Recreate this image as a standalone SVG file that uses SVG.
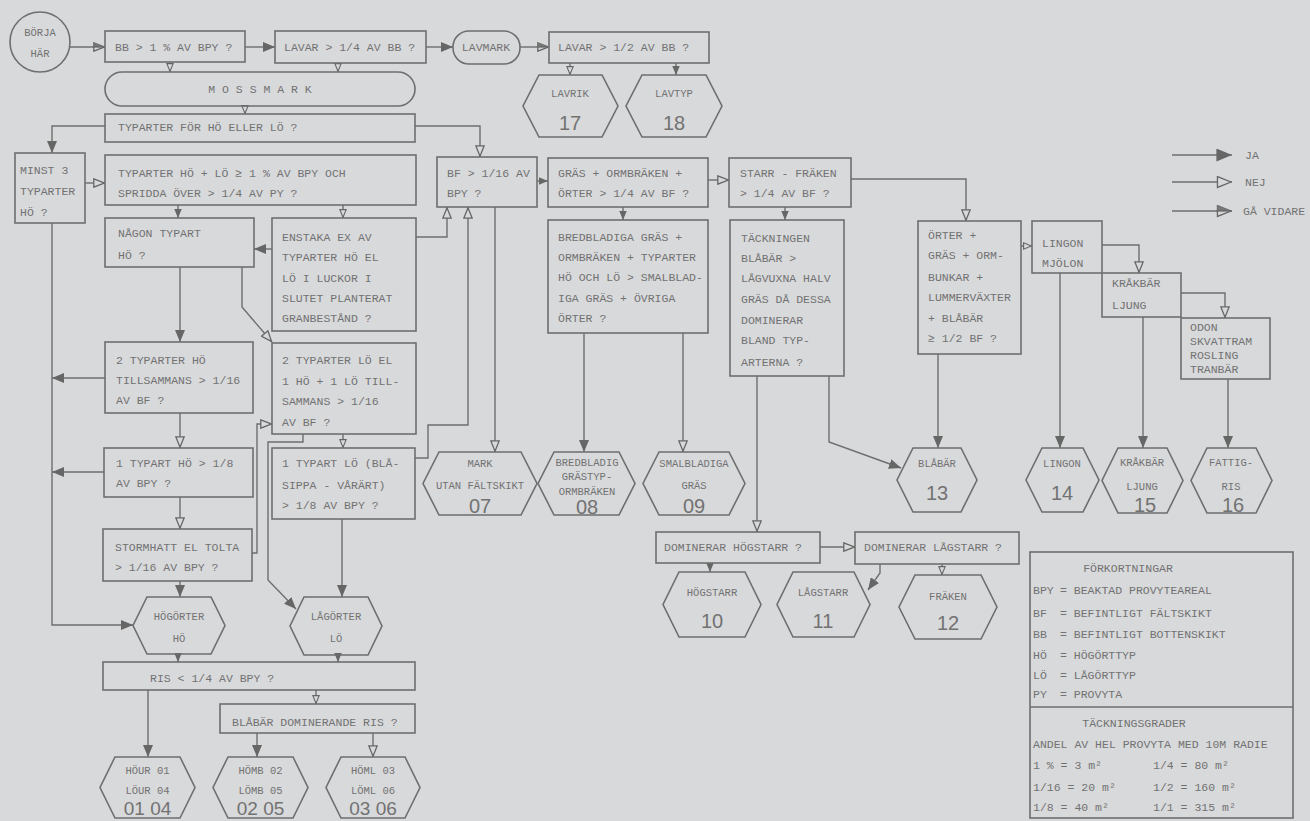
<svg xmlns="http://www.w3.org/2000/svg" width="1310" height="821" viewBox="0 0 1310 821">
<style>
.bg{fill:#d8d9db}
.n{fill:none;stroke:#6e6e6e;stroke-width:1.6}
.t{font-family:"Liberation Mono",monospace;font-size:11.5px;fill:#727272}
.s{font-family:"Liberation Mono",monospace;font-size:10.5px;fill:#727272}
.c{text-anchor:middle}
.big{font-family:"Liberation Sans",sans-serif;font-size:20px;fill:#727272;text-anchor:middle}
.e{fill:none;stroke:#6e6e6e;stroke-width:1.4}
</style>
<defs>
<marker id="ja" viewBox="0 0 12 10" refX="12" refY="5" markerWidth="12" markerHeight="10" markerUnits="userSpaceOnUse" orient="auto"><path d="M0,0 L12,5 L0,10 Z" fill="#666"/></marker>
<marker id="nej" viewBox="0 0 12 10" refX="12" refY="5" markerWidth="12" markerHeight="10" markerUnits="userSpaceOnUse" orient="auto"><path d="M0.8,0.8 L11.2,5 L0.8,9.2 Z" fill="#d8d9db" stroke="#666" stroke-width="1.3"/></marker>
<marker id="jas" viewBox="0 0 12 10" refX="12" refY="5" markerWidth="9" markerHeight="8" markerUnits="userSpaceOnUse" orient="auto"><path d="M0,0 L12,5 L0,10 Z" fill="#666"/></marker>
<marker id="nejs" viewBox="0 0 12 10" refX="12" refY="5" markerWidth="9" markerHeight="8" markerUnits="userSpaceOnUse" orient="auto"><path d="M0.8,0.8 L11.2,5 L0.8,9.2 Z" fill="#d8d9db" stroke="#666" stroke-width="1.5"/></marker>
<marker id="ga" viewBox="0 0 12 10" refX="12" refY="5" markerWidth="12" markerHeight="10" markerUnits="userSpaceOnUse" orient="auto"><path d="M0.8,0.8 L11.2,5 L0.8,9.2 Z" fill="#d8d9db" stroke="#666" stroke-width="1.3"/><path d="M0.8,0.8 L11.2,5 L0.8,5 Z" fill="#777"/><path d="M0,5 H11" stroke="#666" stroke-width="1.3"/></marker>
<marker id="jaL" viewBox="0 0 12 10" refX="12" refY="5" markerWidth="16" markerHeight="13" markerUnits="userSpaceOnUse" orient="auto"><path d="M0,0 L12,5 L0,10 Z" fill="#666"/></marker>
<marker id="nejL" viewBox="0 0 12 10" refX="12" refY="5" markerWidth="16" markerHeight="13" markerUnits="userSpaceOnUse" orient="auto"><path d="M0.8,0.8 L11.2,5 L0.8,9.2 Z" fill="#d8d9db" stroke="#666" stroke-width="1"/></marker>
<marker id="gaL" viewBox="0 0 12 10" refX="12" refY="5" markerWidth="16" markerHeight="13" markerUnits="userSpaceOnUse" orient="auto"><path d="M0.8,0.8 L11.2,5 L0.8,9.2 Z" fill="#d8d9db" stroke="#666" stroke-width="1"/><path d="M0.8,0.8 L11.2,5 L0.8,5 Z" fill="#777"/><path d="M0,5 H11" stroke="#666" stroke-width="1"/></marker>
</defs>
<rect class="bg" x="0" y="0" width="1310" height="821"/>

<g id="connectors" class="e">
<path d="M70,47 H105" marker-end="url(#ga)"/>
<path d="M245,47 H275" marker-end="url(#ja)"/>
<path d="M426,47 H453" marker-end="url(#ja)"/>
<path d="M520,47 H549" marker-end="url(#ga)"/>
<path d="M570,63 V75" marker-end="url(#nejs)"/>
<path d="M676,63 V75" marker-end="url(#jas)"/>
<path d="M170,62 V72" marker-end="url(#nejs)"/>
<path d="M338,63 V72" marker-end="url(#nejs)"/>
<path d="M245,106 V114" marker-end="url(#nejs)"/>
<path d="M105,126 H52 V153" marker-end="url(#ja)"/>
<path d="M415,126 H480 V157" marker-end="url(#nej)"/>
<path d="M85,183 H105" marker-end="url(#nej)"/>
<path d="M52,223 V625 H133" marker-end="url(#ja)"/>
<path d="M178,205 V218" marker-end="url(#jas)"/>
<path d="M343,205 V218" marker-end="url(#nejs)"/>
<path d="M272,249 H254" marker-end="url(#ja)"/>
<path d="M180,267 V342" marker-end="url(#ja)"/>
<path d="M242,267 V307 L272,342" marker-end="url(#nej)"/>
<path d="M416,237 H447 V207" marker-end="url(#nej)"/>
<path d="M105,378 H52" marker-end="url(#ja)"/>
<path d="M180,413 V448" marker-end="url(#nej)"/>
<path d="M104,472 H52" marker-end="url(#ja)"/>
<path d="M180,497 V529" marker-end="url(#nej)"/>
<path d="M180,581 V597" marker-end="url(#ja)"/>
<path d="M252,553 H257 V424 H272" marker-end="url(#nej)"/>
<path d="M303,434 V442 H268 V580 L296,609" marker-end="url(#ja)"/>
<path d="M343,434 V448" marker-end="url(#nejs)"/>
<path d="M342,519 V597" marker-end="url(#ja)"/>
<path d="M415,458 H428 V425 H468 V207" marker-end="url(#nej)"/>
<path d="M495,207 V452" marker-end="url(#nej)"/>
<path d="M537,181 H548" marker-end="url(#jas)"/>
<path d="M708,180 H729" marker-end="url(#nej)"/>
<path d="M623,207 V220" marker-end="url(#jas)"/>
<path d="M584,333 V452" marker-end="url(#ja)"/>
<path d="M683,333 V452" marker-end="url(#nej)"/>
<path d="M785,207 V220" marker-end="url(#jas)"/>
<path d="M851,179 H966 V221" marker-end="url(#nej)"/>
<path d="M757,376 V532" marker-end="url(#nej)"/>
<path d="M829,376 V442 L901,468" marker-end="url(#ja)"/>
<path d="M938,354 V448" marker-end="url(#ja)"/>
<path d="M1021,246 H1032" marker-end="url(#nejs)"/>
<path d="M1102,245 H1139 V273" marker-end="url(#nej)"/>
<path d="M1060,273 V448" marker-end="url(#ja)"/>
<path d="M1181,293 H1225 V318" marker-end="url(#nej)"/>
<path d="M1143,317 V448" marker-end="url(#ja)"/>
<path d="M1228,379 V448" marker-end="url(#ja)"/>
<path d="M820,547 H855" marker-end="url(#nej)"/>
<path d="M710,563 V572" marker-end="url(#jas)"/>
<path d="M880,564 V573 L868,590" marker-end="url(#ja)"/>
<path d="M942,564 V575" marker-end="url(#nejs)"/>
<path d="M178,654 V662" marker-end="url(#jas)"/>
<path d="M338,655 V662" marker-end="url(#jas)"/>
<path d="M148,690 V757" marker-end="url(#ja)"/>
<path d="M316,690 V704" marker-end="url(#nejs)"/>
<path d="M257,733 V757" marker-end="url(#ja)"/>
<path d="M373,733 V757" marker-end="url(#nej)"/>
</g>

<g id="start"><circle class="n" cx="40" cy="42" r="30"/><text class="s c" x="40" y="36">BÖRJA</text><text class="s c" x="40" y="57">HÄR</text></g>
<g id="q-bb"><rect class="n" x="105" y="31" width="140" height="31"/><text class="t" x="115" y="51">BB &gt; 1 % AV BPY ?</text></g>
<g id="q-lavar14"><rect class="n" x="275" y="31" width="151" height="32"/><text class="t" x="284" y="51">LAVAR &gt; 1/4 AV BB ?</text></g>
<g id="lavmark"><rect class="n" x="453" y="31" width="67" height="33" rx="16"/><text class="t c" x="486" y="51">LAVMARK</text></g>
<g id="q-lavar12"><rect class="n" x="549" y="32" width="160" height="31"/><text class="t" x="558" y="51">LAVAR &gt; 1/2 AV BB ?</text></g>
<g id="h17"><polygon class="n" points="539,75 602,75 618,106 602,137 539,137 523,106"/><text class="s c" x="570" y="97">LAVRIK</text><text class="big" x="570" y="130">17</text></g>
<g id="h18"><polygon class="n" points="642,75 706,75 722,106 706,137 642,137 626,106"/><text class="s c" x="674" y="97">LAVTYP</text><text class="big" x="674" y="130">18</text></g>
<g id="mossmark"><rect class="n" x="105" y="72" width="310" height="34" rx="17"/><text class="t c" x="260" y="93">M O S S M A R K</text></g>
<g id="q-typarter"><rect class="n" x="105" y="114" width="310" height="28"/><text class="t" x="118" y="131">TYPARTER FÖR HÖ ELLER LÖ ?</text></g>
<g id="q-minst3"><rect class="n" x="15" y="153" width="70" height="70"/><text class="t" x="20" y="174">MINST 3</text><text class="t" x="20" y="195">TYPARTER</text><text class="t" x="20" y="216">HÖ ?</text></g>
<g id="q-hölö"><rect class="n" x="105" y="155" width="311" height="50"/><text class="t" x="118" y="177">TYPARTER HÖ + LÖ ≥ 1 % AV BPY OCH</text><text class="t" x="118" y="197">SPRIDDA ÖVER &gt; 1/4 AV PY ?</text></g>
<g id="q-nagon"><rect class="n" x="105" y="218" width="149" height="49"/><text class="t" x="118" y="237">NÅGON TYPART</text><text class="t" x="118" y="259">HÖ ?</text></g>
<g id="q-enstaka"><rect class="n" x="272" y="218" width="144" height="113"/><text class="t" x="282" y="241">ENSTAKA EX AV</text><text class="t" x="282" y="261">TYPARTER HÖ EL</text><text class="t" x="282" y="282">LÖ I LUCKOR I</text><text class="t" x="282" y="302">SLUTET PLANTERAT</text><text class="t" x="282" y="322">GRANBESTÅND ?</text></g>
<g id="q-2hö"><rect class="n" x="105" y="342" width="148" height="71"/><text class="t" x="116" y="364">2 TYPARTER HÖ</text><text class="t" x="116" y="384">TILLSAMMANS &gt; 1/16</text><text class="t" x="116" y="404">AV BF ?</text></g>
<g id="q-2lö"><rect class="n" x="272" y="343" width="144" height="91"/><text class="t" x="282" y="364">2 TYPARTER LÖ EL</text><text class="t" x="282" y="385">1 HÖ + 1 LÖ TILL-</text><text class="t" x="282" y="405">SAMMANS &gt; 1/16</text><text class="t" x="282" y="426">AV BF ?</text></g>
<g id="q-1hö"><rect class="n" x="104" y="448" width="149" height="49"/><text class="t" x="116" y="467">1 TYPART HÖ &gt; 1/8</text><text class="t" x="116" y="487">AV BPY ?</text></g>
<g id="q-1lö"><rect class="n" x="272" y="448" width="143" height="71"/><text class="t" x="282" y="467">1 TYPART LÖ (BLÅ-</text><text class="t" x="282" y="489">SIPPA - VÅRÄRT)</text><text class="t" x="282" y="509">&gt; 1/8 AV BPY ?</text></g>
<g id="q-stormhatt"><rect class="n" x="103" y="529" width="149" height="52"/><text class="t" x="115" y="551">STORMHATT EL TOLTA</text><text class="t" x="115" y="571">&gt; 1/16 AV BPY ?</text></g>
<g id="hogorter"><polygon class="n" points="147,597 211,597 225,625.5 211,654 147,654 133,625.5"/><text class="s c" x="179" y="620">HÖGÖRTER</text><text class="s c" x="179" y="642">HÖ</text></g>
<g id="lagorter"><polygon class="n" points="304,597 368,597 382,626 368,655 304,655 290,626"/><text class="s c" x="336" y="620">LÅGÖRTER</text><text class="s c" x="336" y="642">LÖ</text></g>
<g id="q-ris"><rect class="n" x="103" y="662" width="312" height="28"/><text class="t" x="150" y="682">RIS &lt; 1/4 AV BPY ?</text></g>
<g id="q-blabar-dom"><rect class="n" x="220" y="704" width="195" height="29"/><text class="t" x="232" y="726">BLÅBÄR DOMINERANDE RIS ?</text></g>
<g id="h01"><polygon class="n" points="115,757 180,757 195,787.5 180,818 115,818 100,787.5"/><text class="s c" x="147.5" y="774">HÖUR 01</text><text class="s c" x="147.5" y="794">LÖUR 04</text><text class="big" x="147.5" y="815" style="font-size:19px">01 04</text></g>
<g id="h02"><polygon class="n" points="228,757 293,757 308,787.5 293,818 228,818 213,787.5"/><text class="s c" x="260.5" y="774">HÖMB 02</text><text class="s c" x="260.5" y="794">LÖMB 05</text><text class="big" x="260.5" y="815" style="font-size:19px">02 05</text></g>
<g id="h03"><polygon class="n" points="341,757 405,757 420,787.5 405,818 341,818 326,787.5"/><text class="s c" x="373" y="774">HÖML 03</text><text class="s c" x="373" y="794">LÖML 06</text><text class="big" x="373" y="815" style="font-size:19px">03 06</text></g>
<g id="q-bf"><rect class="n" x="437" y="157" width="100" height="50"/><text class="t" x="447" y="177">BF &gt; 1/16 AV</text><text class="t" x="447" y="197">BPY ?</text></g>
<g id="q-gras"><rect class="n" x="548" y="158" width="160" height="49"/><text class="t" x="558" y="177">GRÄS + ORMBRÄKEN +</text><text class="t" x="558" y="197">ÖRTER &gt; 1/4 AV BF ?</text></g>
<g id="q-starr"><rect class="n" x="729" y="158" width="122" height="49"/><text class="t" x="740" y="177">STARR - FRÄKEN</text><text class="t" x="740" y="197">&gt; 1/4 AV BF ?</text></g>
<g id="q-bredbl"><rect class="n" x="548" y="220" width="160" height="113"/><text class="t" x="558" y="241">BREDBLADIGA GRÄS +</text><text class="t" x="558" y="261">ORMBRÄKEN + TYPARTER</text><text class="t" x="558" y="281">HÖ OCH LÖ &gt; SMALBLAD-</text><text class="t" x="558" y="302">IGA GRÄS + ÖVRIGA</text><text class="t" x="558" y="322">ÖRTER ?</text></g>
<g id="q-tackn"><rect class="n" x="730" y="220" width="114" height="156"/><text class="t" x="741" y="242">TÄCKNINGEN</text><text class="t" x="741" y="262">BLÅBÄR &gt;</text><text class="t" x="741" y="282">LÅGVUXNA HALV</text><text class="t" x="741" y="303">GRÄS DÅ DESSA</text><text class="t" x="741" y="324">DOMINERAR</text><text class="t" x="741" y="344">BLAND TYP-</text><text class="t" x="741" y="366">ARTERNA ?</text></g>
<g id="q-orter"><rect class="n" x="918" y="221" width="103" height="133"/><text class="t" x="928" y="239">ÖRTER +</text><text class="t" x="928" y="259">GRÄS + ORM-</text><text class="t" x="928" y="281">BUNKAR +</text><text class="t" x="928" y="301">LUMMERVÄXTER</text><text class="t" x="928" y="322">+ BLÅBÄR</text><text class="t" x="928" y="342">≥ 1/2 BF ?</text></g>
<g id="b-lingon"><rect class="n" x="1032" y="221" width="70" height="52"/><text class="t" x="1042" y="247">LINGON</text><text class="t" x="1042" y="267">MJÖLON</text></g>
<g id="b-krakbar"><rect class="n" x="1102" y="273" width="79" height="44"/><text class="t" x="1112" y="287">KRÅKBÄR</text><text class="t" x="1112" y="309">LJUNG</text></g>
<g id="b-odon"><rect class="n" x="1181" y="318" width="89" height="61"/><text class="t" x="1190" y="331">ODON</text><text class="t" x="1190" y="345">SKVATTRAM</text><text class="t" x="1190" y="359">ROSLING</text><text class="t" x="1190" y="373">TRANBÄR</text></g>
<g id="h07"><polygon class="n" points="439,452 521,452 537,483.5 521,515 439,515 423,483.5"/><text class="s c" x="480" y="467">MARK</text><text class="s c" x="480" y="489">UTAN FÄLTSKIKT</text><text class="big" x="480" y="513">07</text></g>
<g id="h08"><polygon class="n" points="554,452 619,452 635,483.5 619,515 554,515 538,483.5"/><text class="s c" x="587" y="466">BREDBLADIG</text><text class="s c" x="587" y="480">GRÄSTYP-</text><text class="s c" x="587" y="495">ORMBRÄKEN</text><text class="big" x="587" y="514">08</text></g>
<g id="h09"><polygon class="n" points="659,452 729,452 745,483.5 729,515 659,515 643,483.5"/><text class="s c" x="694" y="467">SMALBLADIGA</text><text class="s c" x="694" y="489">GRÄS</text><text class="big" x="694" y="513">09</text></g>
<g id="q-domhog"><rect class="n" x="656" y="532" width="164" height="31"/><text class="t" x="664" y="551">DOMINERAR HÖGSTARR ?</text></g>
<g id="q-domlag"><rect class="n" x="855" y="532" width="164" height="32"/><text class="t" x="864" y="551">DOMINERAR LÅGSTARR ?</text></g>
<g id="h10"><polygon class="n" points="679,572 745,572 761,604.5 745,637 679,637 663,604.5"/><text class="s c" x="712" y="596">HÖGSTARR</text><text class="big" x="712" y="628">10</text></g>
<g id="h11"><polygon class="n" points="793,572 854,572 870,604.5 854,637 793,637 777,604.5"/><text class="s c" x="823" y="596">LÅGSTARR</text><text class="big" x="823" y="628">11</text></g>
<g id="h12"><polygon class="n" points="915,575 981,575 997,607 981,639 915,639 899,607"/><text class="s c" x="948" y="600">FRÄKEN</text><text class="big" x="948" y="630">12</text></g>
<g id="h13"><polygon class="n" points="913,448 961,448 977,480 961,512 913,512 897,480"/><text class="s c" x="937" y="467">BLÅBÄR</text><text class="big" x="937" y="500">13</text></g>
<g id="h14"><polygon class="n" points="1042,448 1083,448 1099,480 1083,512 1042,512 1026,480"/><text class="s c" x="1062" y="467">LINGON</text><text class="big" x="1062" y="500">14</text></g>
<g id="h15"><polygon class="n" points="1118,448 1167,448 1183,480.5 1167,513 1118,513 1102,480.5"/><text class="s c" x="1142" y="466">KRÅKBÄR</text><text class="s c" x="1142" y="490">LJUNG</text><text class="big" x="1145" y="512">15</text></g>
<g id="h16"><polygon class="n" points="1207,448 1256,448 1272,480.5 1256,513 1207,513 1191,480.5"/><text class="s c" x="1231" y="466">FATTIG-</text><text class="s c" x="1231" y="490">RIS</text><text class="big" x="1233" y="512">16</text></g>

<g id="legend-arrows" class="e">
<path d="M1172,155 H1232" marker-end="url(#jaL)"/>
<path d="M1172,182 H1232" marker-end="url(#nejL)"/>
<path d="M1172,211 H1232" marker-end="url(#gaL)"/>
<text class="t" x="1245" y="159" stroke="none">JA</text>
<text class="t" x="1245" y="186" stroke="none">NEJ</text>
<text class="t" x="1243" y="215" stroke="none">GÅ VIDARE</text>
</g>

<g id="legend-box">
<rect class="n" x="1030" y="552" width="263" height="266"/>
<line class="n" x1="1030" y1="707" x2="1293" y2="707"/>
<text class="t c" x="1128" y="572">FÖRKORTNINGAR</text>
<text class="t" x="1033" y="594">BPY</text><text class="t" x="1060" y="594">= BEAKTAD PROVYTEAREAL</text>
<text class="t" x="1033" y="617">BF</text><text class="t" x="1060" y="617">= BEFINTLIGT FÄLTSKIKT</text>
<text class="t" x="1033" y="638">BB</text><text class="t" x="1060" y="638">= BEFINTLIGT BOTTENSKIKT</text>
<text class="t" x="1033" y="659">HÖ</text><text class="t" x="1060" y="659">= HÖGÖRTTYP</text>
<text class="t" x="1033" y="679">LÖ</text><text class="t" x="1060" y="679">= LÅGÖRTTYP</text>
<text class="t" x="1033" y="698">PY</text><text class="t" x="1060" y="698">= PROVYTA</text>
<text class="t c" x="1134" y="727">TÄCKNINGSGRADER</text>
<text class="t" x="1033" y="748">ANDEL AV HEL PROVYTA MED 10M RADIE</text>
<text class="t" x="1033" y="769">1 %  = 3 m²</text><text class="t" x="1153" y="769">1/4 = 80 m²</text>
<text class="t" x="1033" y="791">1/16 = 20 m²</text><text class="t" x="1153" y="791">1/2 = 160 m²</text>
<text class="t" x="1033" y="811">1/8  = 40 m²</text><text class="t" x="1153" y="811">1/1 = 315 m²</text>
</g>
</svg>
